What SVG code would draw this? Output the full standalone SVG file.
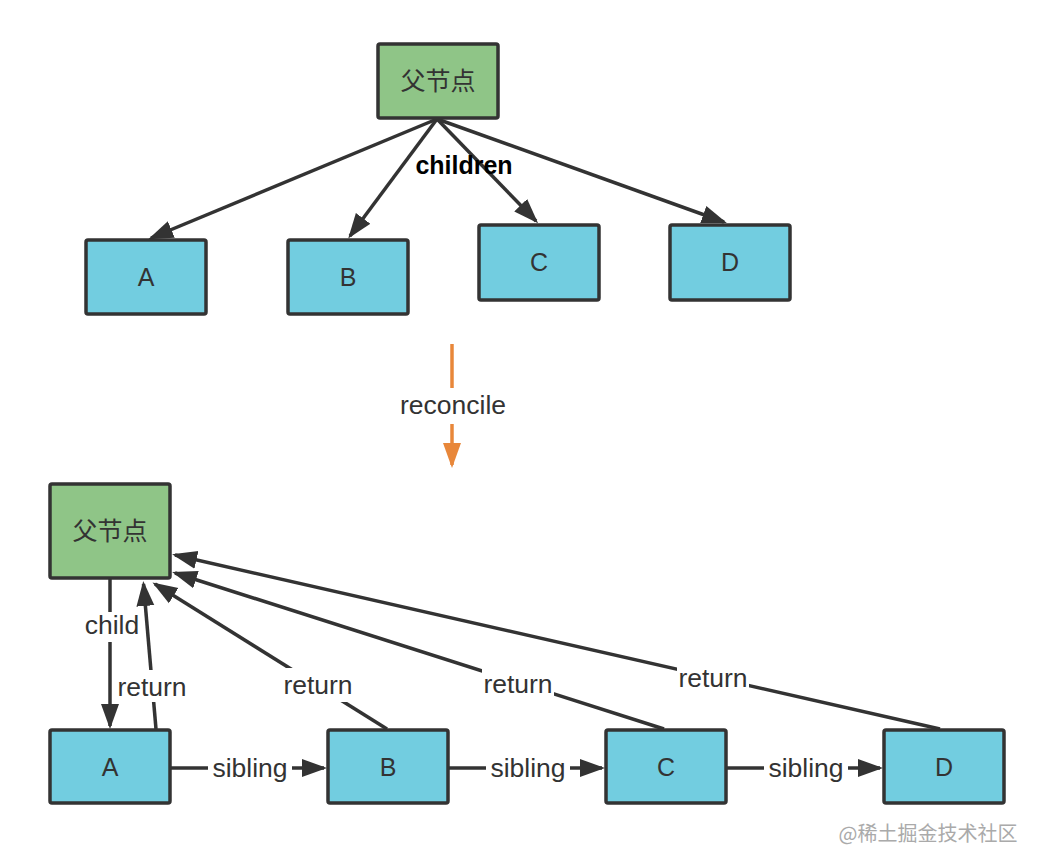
<svg xmlns="http://www.w3.org/2000/svg" width="1042" height="868" viewBox="0 0 1042 868">
<defs>
<style>
.green{fill:#8fc587;stroke:#333;stroke-width:3.5}
.blue{fill:#72cde0;stroke:#333;stroke-width:3.5}
.t{font-family:"Liberation Sans","Noto Sans CJK SC",sans-serif;font-size:25px;fill:#333;text-anchor:middle}
.cn{font-family:"Noto Sans CJK SC","Liberation Sans",sans-serif;font-size:25px;fill:#333;text-anchor:middle}
.lbl{font-family:"Liberation Sans",sans-serif;font-size:26.5px;fill:#333;text-anchor:middle}
.bg{fill:#fff}
.c{fill:none;stroke:#333;stroke-width:3.5}
.o{fill:none;stroke:#e8873a;stroke-width:3.5}
</style>
<marker id="ah" markerUnits="userSpaceOnUse" markerWidth="26" markerHeight="20" viewBox="0 0 26 20" refX="22" refY="10" orient="auto">
<path d="M0,1 L25,10 L0,19 z" fill="#333"/>
</marker>
<marker id="ao" markerUnits="userSpaceOnUse" markerWidth="26" markerHeight="20" viewBox="0 0 26 20" refX="22" refY="10" orient="auto">
<path d="M0,1 L25,10 L0,19 z" fill="#e8873a"/>
</marker>
</defs>
<rect width="1042" height="868" fill="#fff"/>

<g id="connectors">
<line class="c" x1="437" y1="119" x2="151" y2="238" marker-end="url(#ah)"/>
<line class="c" x1="437" y1="119" x2="350" y2="236" marker-end="url(#ah)"/>
<line class="c" x1="437" y1="119" x2="536" y2="221" marker-end="url(#ah)"/>
<line class="c" x1="437" y1="119" x2="724" y2="222" marker-end="url(#ah)"/>
<text class="lbl" x="464" y="174" style="font-weight:bold;fill:#000;font-size:25px">children</text>

<line class="o" x1="452" y1="344" x2="452" y2="388"/>
<line class="o" x1="452" y1="424" x2="452" y2="465" marker-end="url(#ao)"/>
<text class="lbl" x="453" y="414">reconcile</text>

<line class="c" x1="110" y1="579" x2="110" y2="726" marker-end="url(#ah)"/>
<rect class="bg" x="82" y="612" width="60" height="30"/>
<text class="lbl" x="112" y="634">child</text>

<line class="c" x1="156" y1="729" x2="143.5" y2="584" marker-end="url(#ah)"/>
<rect class="bg" x="116" y="670" width="72" height="32"/>
<text class="lbl" x="152" y="696">return</text>

<line class="c" x1="387" y1="729" x2="155" y2="584" marker-end="url(#ah)"/>
<rect class="bg" x="282" y="668" width="72" height="34"/>
<text class="lbl" x="318" y="694">return</text>

<line class="c" x1="664" y1="729" x2="175" y2="573" marker-end="url(#ah)"/>
<rect class="bg" x="482" y="667" width="72" height="32"/>
<text class="lbl" x="518" y="693">return</text>

<line class="c" x1="940" y1="729" x2="175" y2="555" marker-end="url(#ah)"/>
<rect class="bg" x="677" y="661" width="72" height="32"/>
<text class="lbl" x="713" y="687">return</text>

<line class="c" x1="171" y1="768" x2="324" y2="768" marker-end="url(#ah)"/>
<rect class="bg" x="208" y="752" width="84" height="34"/>
<text class="lbl" x="250" y="777">sibling</text>

<line class="c" x1="449" y1="768" x2="602" y2="768" marker-end="url(#ah)"/>
<rect class="bg" x="486" y="752" width="84" height="34"/>
<text class="lbl" x="528" y="777">sibling</text>

<line class="c" x1="727" y1="768" x2="880" y2="768" marker-end="url(#ah)"/>
<rect class="bg" x="764" y="752" width="84" height="34"/>
<text class="lbl" x="806" y="777">sibling</text>
</g>

<g id="top-parent"><rect class="green" x="378" y="44" width="120" height="74" rx="2"/><text class="cn" x="438" y="90">父节点</text></g>
<g id="top-A"><rect class="blue" x="86" y="240" width="120" height="74" rx="2"/><text class="t" x="146" y="286">A</text></g>
<g id="top-B"><rect class="blue" x="288" y="240" width="120" height="74" rx="2"/><text class="t" x="348" y="286">B</text></g>
<g id="top-C"><rect class="blue" x="479" y="225" width="120" height="75" rx="2"/><text class="t" x="539" y="271">C</text></g>
<g id="top-D"><rect class="blue" x="670" y="225" width="120" height="75" rx="2"/><text class="t" x="730" y="271">D</text></g>

<g id="bottom-parent"><rect class="green" x="50" y="484" width="120" height="94" rx="2"/><text class="cn" x="110" y="540">父节点</text></g>
<g id="bottom-A"><rect class="blue" x="50" y="730" width="120" height="73" rx="2"/><text class="t" x="110" y="776">A</text></g>
<g id="bottom-B"><rect class="blue" x="328" y="730" width="120" height="73" rx="2"/><text class="t" x="388" y="776">B</text></g>
<g id="bottom-C"><rect class="blue" x="606" y="730" width="120" height="73" rx="2"/><text class="t" x="666" y="776">C</text></g>
<g id="bottom-D"><rect class="blue" x="884" y="730" width="120" height="73" rx="2"/><text class="t" x="944" y="776">D</text></g>

<text x="928" y="841" style="font-family:'Noto Sans CJK SC','Liberation Sans',sans-serif;font-size:20px;fill:#aaa;text-anchor:middle">@稀土掘金技术社区</text>
</svg>
